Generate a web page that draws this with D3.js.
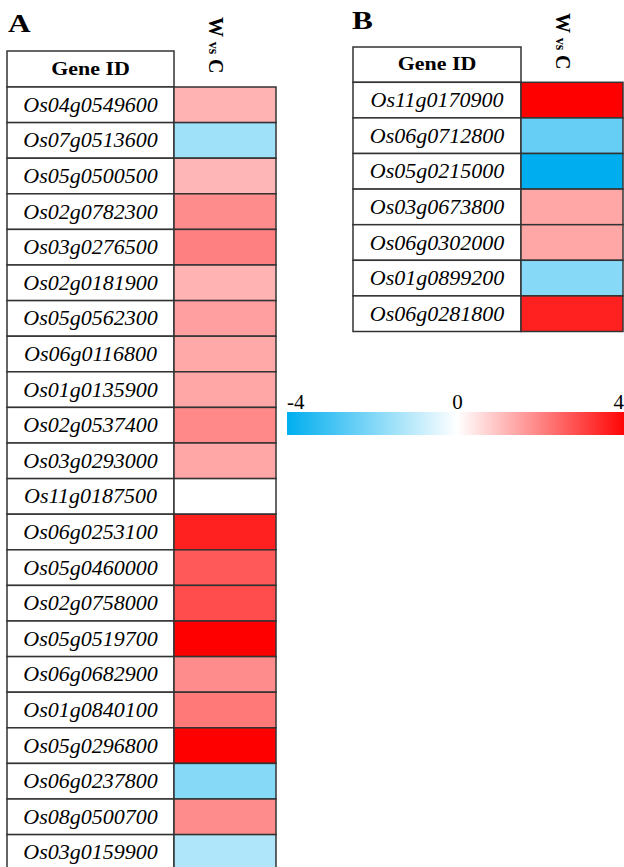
<!DOCTYPE html>
<html>
<head>
<meta charset="utf-8">
<script src="https://cdn.jsdelivr.net/npm/d3@7"></script>
<style>
  body { margin: 0; background: #fff; }
  svg { display: block; }
  svg text { font-family: "Liberation Serif", "Times New Roman", Tinos, serif; }
</style>
</head>
<body>
<svg id="chart" width="624" height="867"></svg>
<script>
// panel A data (log2 fold change, W vs C)
const genesA = ["Os04g0549600", "Os07g0513600", "Os05g0500500", "Os02g0782300", "Os03g0276500",
  "Os02g0181900", "Os05g0562300", "Os06g0116800", "Os01g0135900", "Os02g0537400", "Os03g0293000",
  "Os11g0187500", "Os06g0253100", "Os05g0460000", "Os02g0758000", "Os05g0519700", "Os06g0682900",
  "Os01g0840100", "Os05g0296800", "Os06g0237800", "Os08g0500700", "Os03g0159900"];
const valuesA = [1.2, -1.5, 1.15, 1.8, 2.0, 1.2, 1.5, 1.35, 1.4, 1.85, 1.4,
  0, 3.5, 2.6, 2.8, 4.0, 1.8, 2.1, 4.0, -1.9, 1.8, -1.25];

// panel B data
const genesB = ["Os11g0170900", "Os06g0712800", "Os05g0215000", "Os03g0673800",
  "Os06g0302000", "Os01g0899200", "Os06g0281800"];
const valuesB = [4.0, -2.4, -4.0, 1.4, 1.4, -1.9, 3.5];

const legendTicks = [-4, 0, 4];

let svg = d3.select("#chart");
let color = d3.scaleLinear().domain([-4, 0, 4]).range(["#00aeef", "#ffffff", "#ff0000"]);

let drawPanel = function (letter, genes, values, p) {
  let g = svg.append("g");
  let y = d3.scaleBand()
    .domain(genes)
    .range([p.top, p.top + genes.length * p.rowH]);

  // panel letter, stretched bold like the original
  g.append("text")
    .attr("transform", "translate(" + p.letterX + "," + p.letterY + ") scale(1.25,1)")
    .attr("font-size", 25)
    .attr("font-weight", "bold")
    .text(letter);

  // column heading, rotated
  let head = g.append("text")
    .attr("transform", "translate(" + ((p.x2 + p.x1) / 2 - 16) + "," + p.headY + ") rotate(90)")
    .attr("font-weight", "bold")
    .attr("font-size", 20);
  head.append("tspan").text("W ");
  head.append("tspan").attr("font-size", 14).text("vs");
  head.append("tspan").text(" C");

  // header box
  g.append("rect")
    .attr("x", p.x0).attr("y", p.headerTop)
    .attr("width", p.x1 - p.x0).attr("height", p.top - p.headerTop)
    .attr("fill", "#fff").attr("stroke", "#333").attr("stroke-width", 1.5);
  g.append("text")
    .attr("transform", "translate(" + (p.x0 + p.x1) / 2 + "," + (p.top - 12) + ") scale(1.22,1)")
    .attr("text-anchor", "middle")
    .attr("font-weight", "bold")
    .attr("font-size", 18)
    .text("Gene ID");

  let rows = g.selectAll(".row")
    .data(genes.map((d, i) => ({gene: d, value: values[i]})))
    .enter().append("g").attr("class", "row");

  rows.append("rect")
    .attr("x", p.x0).attr("y", d => y(d.gene))
    .attr("width", p.x1 - p.x0).attr("height", y.bandwidth())
    .attr("fill", "#fff").attr("stroke", "#333").attr("stroke-width", 1.5);

  rows.append("rect")
    .attr("x", p.x1).attr("y", d => y(d.gene))
    .attr("width", p.x2 - p.x1).attr("height", y.bandwidth())
    .attr("fill", d => color(d.value)).attr("stroke", "#333").attr("stroke-width", 1.5);

  rows.append("text")
    .attr("x", (p.x0 + p.x1) / 2)
    .attr("y", d => y(d.gene) + y.bandwidth() / 2 + 7)
    .attr("text-anchor", "middle")
    .attr("font-style", "italic")
    .attr("font-size", 22)
    .text(d => d.gene);
};

drawPanel("A", genesA, valuesA, {x0: 7, x1: 174, x2: 276, headerTop: 51, top: 87, rowH: 35.6,
  letterX: 8, letterY: 32, headY: 17});
drawPanel("B", genesB, valuesB, {x0: 353, x1: 521, x2: 623, headerTop: 47, top: 82.3, rowH: 35.6,
  letterX: 352, letterY: 29, headY: 13});

// colour legend
let lx = d3.scaleLinear().domain([-4, 4]).range([287, 628]);
let grad = svg.append("defs").append("linearGradient").attr("id", "lg");
grad.selectAll("stop")
  .data(d3.range(-4, 4.01, 0.5))
  .enter().append("stop")
  .attr("offset", d => ((d + 4) / 8 * 100) + "%")
  .attr("stop-color", d => color(d));

svg.append("rect")
  .attr("x", lx(-4)).attr("y", 412)
  .attr("width", lx(4) - lx(-4)).attr("height", 23)
  .attr("fill", "url(#lg)");

svg.selectAll(".ltick")
  .data(legendTicks)
  .enter().append("text")
  .attr("class", "ltick")
  .attr("x", (d, i) => i == legendTicks.length - 1 ? lx(d) - 4 : lx(d))
  .attr("y", 409)
  .attr("font-size", 21)
  .attr("text-anchor", (d, i) => i == 0 ? "start" : (i == legendTicks.length - 1 ? "end" : "middle"))
  .text(d => d);
</script>
</body>
</html>
